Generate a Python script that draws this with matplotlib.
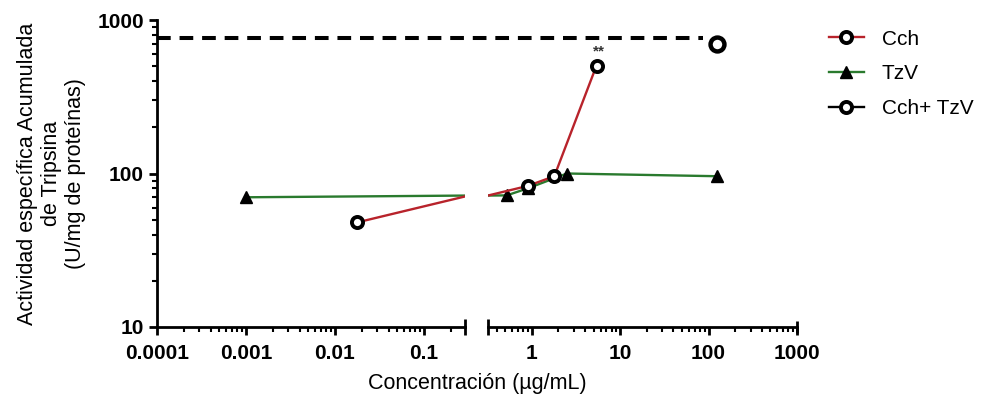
import numpy as np
import matplotlib
matplotlib.use("Agg")
import matplotlib.pyplot as plt
from matplotlib.lines import Line2D
from matplotlib.ticker import LogLocator, NullFormatter, FixedLocator, FixedFormatter
import matplotlib.transforms as mtransforms

plt.rcParams['font.family'] = ['Liberation Sans', 'DejaVu Sans']

# values
cch_x = [0.0177, 0.9, 1.8, 5.4]
cch_y = [48, 83, 96, 505]
tzv_x = [0.001, 0.52, 0.9, 2.5, 125]
tzv_y = [70, 72, 80, 100, 96]
mix_x = [125]
mix_y = [700]
control_y = 767

xticks_left = [0.0001, 0.001, 0.01, 0.1]
xticks_right = [1, 10, 100, 1000]
yticks = [10, 100, 1000]

W, H = 986, 401
fig = plt.figure(figsize=(W / 100, H / 100), dpi=100)

def px(x0, y0, x1, y1):
    return [x0 / W, 1 - y1 / H, (x1 - x0) / W, (y1 - y0) / H]

axl = fig.add_axes(px(157, 20, 465, 327))
axr = fig.add_axes(px(488, 20, 797, 327))

red = '#b8232b'
green = '#2a7a2e'

for ax in (axl, axr):
    ax.set_facecolor('none')
    ax.set_xscale('log')
    ax.set_yscale('log')
    ax.set_ylim(10, 1000)
    ax.plot(tzv_x, tzv_y, color=green, lw=1.7, marker='^', ms=8.5,
            mfc='black', mec='black', zorder=3)
    ax.plot(cch_x, cch_y, color=red, lw=1.7, marker='o', ms=8,
            mfc='white', mec='black', mew=2.8, zorder=4)
    ax.plot(mix_x, mix_y, color='black', lw=1.7, marker='o', ms=10,
            mfc='white', mec='black', mew=3.2, zorder=4)
    ax.spines['top'].set_visible(False)
    ax.spines['right'].set_visible(False)
    ax.spines['bottom'].set_linewidth(2)
    ax.tick_params(axis='both', which='major', direction='out', length=6, width=2,
                   labelsize=15)
    ax.tick_params(axis='x', which='major', pad=6)
    ax.tick_params(axis='both', which='minor', direction='out', length=3.5, width=1.5)
    ax.xaxis.set_minor_locator(LogLocator(base=10, subs=np.arange(2, 10), numticks=20))
    ax.xaxis.set_minor_formatter(NullFormatter())

axl.set_xlim(1e-4, 0.289)
axr.set_xlim(0.32, 1000)

axl.xaxis.set_major_locator(FixedLocator(xticks_left))
axl.xaxis.set_major_formatter(FixedFormatter([str(v) for v in xticks_left]))
axr.xaxis.set_major_locator(FixedLocator(xticks_right))
axr.xaxis.set_major_formatter(FixedFormatter([str(v) for v in xticks_right]))

axl.yaxis.set_major_locator(FixedLocator(yticks))
axl.yaxis.set_major_formatter(FixedFormatter([str(v) for v in yticks]))
axl.yaxis.set_minor_locator(LogLocator(base=10, subs=np.arange(2, 10), numticks=20))
axl.yaxis.set_minor_formatter(NullFormatter())
axl.spines['left'].set_linewidth(2)

axr.spines['left'].set_visible(False)
axr.tick_params(axis='y', which='both', left=False, labelleft=False)

for ax in (axl, axr):
    for lab in ax.get_xticklabels() + ax.get_yticklabels():
        lab.set_fontweight('bold')

# caps at the axis break
axl.plot([1], [0], marker='|', ms=12, mew=2, color='black',
         transform=axl.transAxes, clip_on=False)
axr.plot([0], [0], marker='|', ms=12, mew=2, color='black',
         transform=axr.transAxes, clip_on=False)
axr.plot([1], [0], marker='|', ms=8, mew=2, color='black',
         transform=axr.transAxes, clip_on=False)

# dashed control line across the break
trans = mtransforms.blended_transform_factory(axl.transAxes, axl.transData)
axl.plot([0, (703 - 157) / 308], [control_y, control_y], color='black', lw=2.9,
         ls=(0, (3.4, 2.2)), transform=trans, clip_on=False, zorder=2)

axr.annotate('**', (cch_x[-1], cch_y[-1]), xytext=(2, 5), textcoords='offset points',
             ha='center', va='bottom', fontsize=11, fontweight='bold', color='#333333')

axl.set_ylabel('Actividad específica Acumulada\nde Tripsina\n(U/mg de proteínas)',
               fontsize=15.5, linespacing=1.2, labelpad=8)
fig.text(477 / W, 1 - 383 / H, 'Concentración (µg/mL)', ha='center', va='center',
         fontsize=15.5)

handles = [
    Line2D([], [], color=red, lw=1.7, marker='o', ms=8, mfc='white', mec='black', mew=2.8),
    Line2D([], [], color=green, lw=1.7, marker='^', ms=8.5, mfc='black', mec='black'),
    Line2D([], [], color='black', lw=1.7, marker='o', ms=8, mfc='white', mec='black', mew=2.8),
]
fig.legend(handles, ['Cch', 'TzV', 'Cch+ TzV'], loc='upper left',
           bbox_to_anchor=(810 / W, 1 - 11 / H), frameon=False, fontsize=15,
           handlelength=1.7, handletextpad=0.85, labelspacing=0.75)

fig.savefig('out.png', dpi=100)
